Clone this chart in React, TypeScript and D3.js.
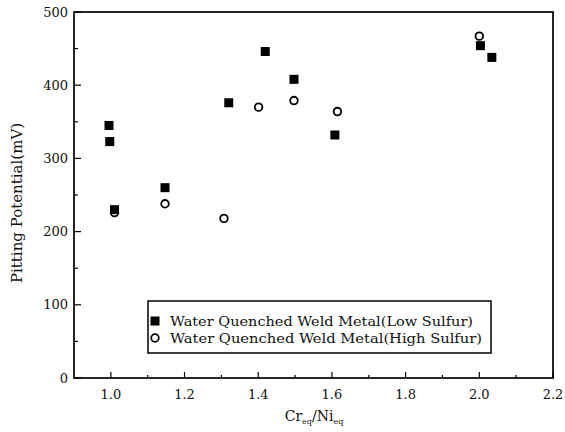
import React from "react";
import * as d3 from "d3";

const lowX = [0.995, 0.997, 1.01, 1.147, 1.32, 1.419, 1.497, 1.608, 2.003, 2.034];
const lowY = [345, 323, 230, 260, 376, 446, 408, 332, 454, 438];
const highX = [1.01, 1.147, 1.307, 1.401, 1.497, 1.615, 2.0];
const highY = [226, 238, 218, 370, 379, 364, 467];
const xTicks = [1.0, 1.2, 1.4, 1.6, 1.8, 2.0, 2.2];
const xMinor = [1.1, 1.3, 1.5, 1.7, 1.9, 2.1];
const yTicks = [0, 100, 200, 300, 400, 500];
const yMinor = [50, 150, 250, 350, 450];
const legendLabels = [
  "Water Quenched Weld Metal(Low Sulfur)",
  "Water Quenched Weld Metal(High Sulfur)",
];

const W = 565, H = 432;
const L = 74, R = 553, T = 12, B = 378;
const FONT = "DejaVu Serif";

export default function App() {
  const x = d3.scaleLinear().domain([0.9, 2.2]).range([L, R]);
  const y = d3.scaleLinear().domain([0, 500]).range([B, T]);
  const low = lowX.map((v, i) => [v, lowY[i]]);
  const high = highX.map((v, i) => [v, highY[i]]);
  const sq = 9;
  return (
    <svg width={W} height={H} style={{ position: "absolute", left: 0, top: 0, background: "#fff" }}>
      <rect x={L} y={T} width={R - L} height={B - T} fill="none" stroke="#000" strokeWidth={1.7} />
      {yTicks.map((t) => (
        <g key={"y" + t}>
          <line x1={L} x2={L + 7} y1={y(t)} y2={y(t)} stroke="#000" strokeWidth={1.2} />
          <text x={L - 6} y={y(t)} dy="0.36em" textAnchor="end" fontFamily={FONT} fontSize={13} fill="#111">{t}</text>
        </g>
      ))}
      {yMinor.map((t) => (
        <line key={"ym" + t} x1={L} x2={L + 4} y1={y(t)} y2={y(t)} stroke="#000" strokeWidth={1.2} />
      ))}
      {xTicks.map((t) => (
        <g key={"x" + t}>
          <line x1={x(t)} x2={x(t)} y1={B} y2={B - 6} stroke="#000" strokeWidth={1.2} />
          <text x={x(t)} y={B + 21} textAnchor="middle" fontFamily={FONT} fontSize={13} fill="#111">{t.toFixed(1)}</text>
        </g>
      ))}
      {xMinor.map((t) => (
        <line key={"xm" + t} x1={x(t)} x2={x(t)} y1={B} y2={B - 3} stroke="#000" strokeWidth={1.2} />
      ))}
      <text x={314} y={421} textAnchor="middle" fontFamily={FONT} fontSize={14} fill="#111">
        Cr<tspan fontSize={8} dy={3}>eq</tspan><tspan dy={-3}>/Ni</tspan><tspan fontSize={8} dy={3}>eq</tspan>
      </text>
      <text transform={`translate(22,${(T + B) / 2 + 8}) rotate(-90)`} textAnchor="middle" fontFamily={FONT} fontSize={15} fill="#111">
        Pitting Potential(mV)
      </text>
      {low.map(([a, b], i) => (
        <rect key={"l" + i} x={x(a) - sq / 2} y={y(b) - sq / 2} width={sq} height={sq} fill="#000" />
      ))}
      {high.map(([a, b], i) => (
        <circle key={"h" + i} cx={x(a)} cy={y(b)} r={3.8} fill="none" stroke="#000" strokeWidth={1.8} />
      ))}
      <rect x={148} y={301} width={343} height={52} fill="#fff" stroke="#000" strokeWidth={1.5} />
      <rect x={155 - sq / 2} y={321 - sq / 2} width={sq} height={sq} fill="#000" />
      <circle cx={155} cy={338} r={3.8} fill="none" stroke="#000" strokeWidth={1.8} />
      {legendLabels.map((s, i) => (
        <text key={s} x={170} y={326 + i * 17} fontFamily={FONT} fontSize={13} fill="#111" textLength={i === 0 ? 303 : 312} lengthAdjust="spacingAndGlyphs">{s}</text>
      ))}
    </svg>
  );
}
